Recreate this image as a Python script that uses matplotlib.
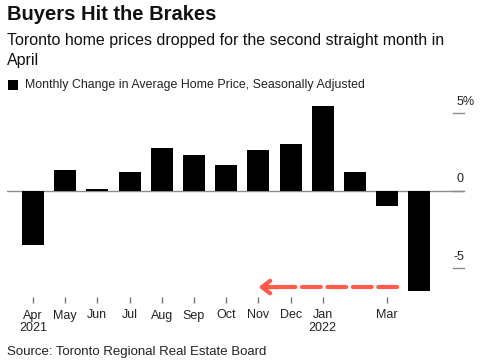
import matplotlib
matplotlib.use("Agg")
from matplotlib import pyplot as plt
from matplotlib import transforms
from matplotlib.patches import Rectangle

plt.rcParams['font.family'] = ['Liberation Sans', 'DejaVu Sans']

months = ["Apr", "May", "Jun", "Jul", "Aug", "Sep", "Oct", "Nov", "Dec", "Jan", "Feb", "Mar", "Apr"]
change = [-3.5, 1.35, 0.15, 1.2, 2.8, 2.3, 1.7, 2.65, 3.0, 5.5, 1.2, -1.0, -6.45]
tick_labels = ["Apr\n2021", "May", "Jun", "Jul", "Aug", "Sep", "Oct", "Nov", "Dec", "Jan\n2022", "", "Mar", ""]
y_ticks = [5, 0, -5]
y_tick_labels = ["5%", "0", "-5"]
arrow_from = 11.3
arrow_to = 7.0
arrow_y = -6.2

fig = plt.figure(figsize=(4.8, 3.6), dpi=100)
ax = fig.add_axes([7/480, 1 - 297/360, 457/480, 197/360])

x = list(range(len(months)))
ax.bar(x, change, width=0.68, color="black", zorder=2)
ax.axhline(0, color="#8c8c8c", lw=1, zorder=1)

ax.set_xlim(-0.807, 13.385)
ax.set_ylim(-6.84, 5.87)
for s in ax.spines.values():
    s.set_visible(False)
ax.set_yticks([])
ax.set_xticks([i for i in x if tick_labels[i]])
ax.set_xticklabels([t for t in tick_labels if t], fontsize=9, color="#222222", linespacing=1.1)
ax.tick_params(axis="x", length=4, width=1, color="#777777", pad=5)

# right side y ticks
trans = transforms.blended_transform_factory(ax.transAxes, ax.transData)
for v, lab in zip(y_ticks, y_tick_labels):
    ax.plot([0.976, 1.0], [v, v], color="#8c8c8c", lw=1, transform=trans, clip_on=False)
    if lab.endswith("%"):
        ax.annotate(lab, (0.983, v), xycoords=trans, xytext=(0, 8.5), textcoords="offset points",
                    ha="left", va="center", fontsize=9, color="#222222")
    else:
        ax.annotate(lab, (1.0, v), xycoords=trans, xytext=(0, 8.5), textcoords="offset points",
                    ha="right", va="center", fontsize=9, color="#222222")

# red dashed arrow
red = "#ff5a4a"
ax.plot([arrow_from, arrow_to + 0.3], [arrow_y, arrow_y], color=red, lw=3, dashes=(4.5, 1.6),
        solid_capstyle="round", dash_capstyle="round", zorder=3)
ax.annotate("", xy=(arrow_to, arrow_y), xytext=(arrow_to + 0.6, arrow_y),
            arrowprops=dict(arrowstyle="->,head_length=0.6,head_width=0.45", color=red, lw=3,
                            capstyle="round", joinstyle="round", shrinkA=0, shrinkB=0), zorder=3)

fig.text(7/480, 1 - 15/360, "Buyers Hit the Brakes", fontsize=14.5, fontweight="bold", va="center", color="#111111")
fig.text(7/480, 1 - 40/360, "Toronto home prices dropped for the second straight month in",
         fontsize=11.5, va="center", ha="left", color="#111111")
fig.text(7/480, 1 - 60/360, "April", fontsize=11.5, va="center", ha="left", color="#111111")
fig.patches.append(Rectangle((8/480, 1 - 90/360), 10/480, 10/360, transform=fig.transFigure,
                             facecolor="black", edgecolor="none"))
fig.text(25/480, 1 - 85/360, "Monthly Change in Average Home Price, Seasonally Adjusted",
         fontsize=8.9, va="center", color="#222222")
fig.text(7/480, 1 - 352/360, "Source: Toronto Regional Real Estate Board", fontsize=9.5, va="center", color="#222222")

fig.savefig("out.png", dpi=100)
